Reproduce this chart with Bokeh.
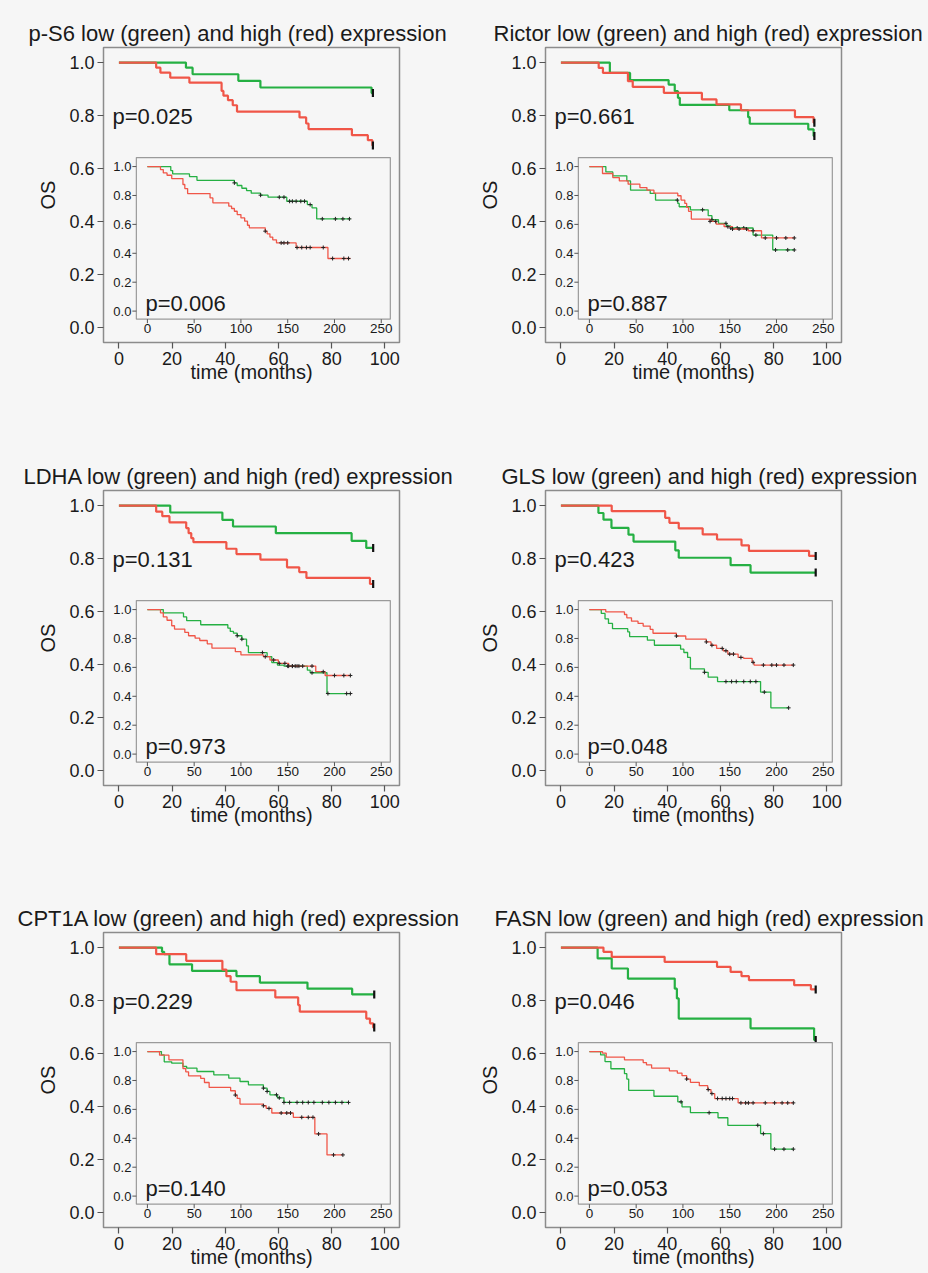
import math
from bokeh.plotting import figure
from bokeh.models import Range1d, Label, PrintfTickFormatter, FixedTicker
from bokeh.layouts import column, row
from bokeh.embed import file_html
from bokeh.resources import INLINE
from bokeh.core.properties import value

# ---------------- data ----------------
GENES = ["p-S6", "Rictor", "LDHA", "GLS", "CPT1A", "FASN"]
P_MAIN = ["0.025", "0.661", "0.131", "0.423", "0.229", "0.046"]
P_INSET = ["0.006", "0.887", "0.973", "0.048", "0.140", "0.053"]
MAIN_X_TICKS = [0, 20, 40, 60, 80, 100]
OS_TICKS = [0.0, 0.2, 0.4, 0.6, 0.8, 1.0]
OS_LABELS = ["0.0", "0.2", "0.4", "0.6", "0.8", "1.0"]
INSET_X_TICKS = [0, 50, 100, 150, 200, 250]
INSET_X_LABELS = ["0", "50", "100", "150", "200", "250"]

# main plots (months 0-100): event times and survival after each event
PS6_LOW_T = [25.2, 27.7, 44.9, 53.2, 95.0]
PS6_LOW_S = [0.981, 0.956, 0.931, 0.906, 0.885]
PS6_HIGH_T = [14, 15.6, 19.3, 26.5, 38.6, 39.3, 41, 42.8, 44.4, 67.9, 70.4, 71.3, 87.6, 93.6, 95.3]
PS6_HIGH_S = [0.981, 0.962, 0.943, 0.924, 0.893, 0.875, 0.858, 0.839, 0.815, 0.793, 0.770, 0.749, 0.726, 0.707, 0.687]
PS6_END = 95.5

RICTOR_LOW_T = [18.4, 26, 40.5, 42.8, 44, 44.7, 63.3, 70.4, 71, 93, 95]
RICTOR_LOW_S = [0.961, 0.934, 0.917, 0.892, 0.867, 0.840, 0.820, 0.794, 0.769, 0.748, 0.723]
RICTOR_HIGH_T = [14.2, 15.8, 25.2, 27, 38.7, 53, 58.5, 67.7, 88, 95]
RICTOR_HIGH_S = [0.980, 0.961, 0.930, 0.908, 0.886, 0.861, 0.842, 0.820, 0.794, 0.773]
RICTOR_END = 95.3

LDHA_LOW_T = [19.3, 38.9, 42.9, 59, 87.5, 93]
LDHA_LOW_S = [0.974, 0.946, 0.921, 0.896, 0.867, 0.840]
LDHA_HIGH_T = [14, 16.3, 19, 25.3, 26.2, 27.2, 28, 40.4, 44.2, 53.2, 63.2, 67.8, 70.5, 94.4]
LDHA_HIGH_S = [0.977, 0.960, 0.937, 0.915, 0.896, 0.877, 0.862, 0.837, 0.817, 0.796, 0.767, 0.749, 0.727, 0.704]
LDHA_END = 95.6

GLS_LOW_T = [14.1, 16, 19, 25.4, 27.3, 43, 44.3, 63.8, 71.3]
GLS_LOW_S = [0.972, 0.947, 0.916, 0.890, 0.864, 0.831, 0.803, 0.775, 0.747]
GLS_HIGH_T = [19.1, 39.2, 40.8, 44.3, 53.3, 58.7, 67.9, 70.7, 93.3]
GLS_HIGH_S = [0.979, 0.954, 0.935, 0.914, 0.891, 0.872, 0.850, 0.829, 0.810]
GLS_END = 95.8

CPT1A_LOW_T = [16.2, 17, 19, 27.5, 44.2, 53, 70.9, 87.7]
CPT1A_LOW_S = [0.984, 0.975, 0.937, 0.912, 0.892, 0.868, 0.845, 0.823]
CPT1A_HIGH_T = [14, 25.3, 38.9, 40.4, 42, 44.2, 58.8, 67.4, 68, 93, 94.4, 95.6]
CPT1A_HIGH_S = [0.975, 0.950, 0.917, 0.892, 0.871, 0.839, 0.812, 0.783, 0.758, 0.732, 0.714, 0.698]
CPT1A_END = 96.0

FASN_LOW_T = [13.8, 19.1, 25.2, 42.8, 43.6, 44.3, 71.3, 95.2]
FASN_LOW_S = [0.959, 0.921, 0.883, 0.845, 0.808, 0.732, 0.695, 0.651]
FASN_HIGH_T = [16, 19.1, 39, 58.7, 63.8, 67.9, 70.7, 87.7, 94]
FASN_HIGH_S = [0.984, 0.965, 0.946, 0.927, 0.908, 0.892, 0.877, 0.858, 0.842]
FASN_END = 95.8

# inset plots (months 0-250)
PS6_IN_LOW_T = [25, 27, 45, 53, 93, 96, 101, 106, 111, 121, 129, 149, 171, 176, 181]
PS6_IN_LOW_S = [0.972, 0.949, 0.931, 0.905, 0.887, 0.869, 0.850, 0.834, 0.816, 0.802, 0.788, 0.760, 0.737, 0.714, 0.638]
PS6_IN_LOW_C = [93, 121, 141, 146, 152, 155, 159, 164, 168, 174, 187, 201, 209, 216]
PS6_IN_LOW_END = 217
PS6_IN_HIGH_T = [14, 17, 21, 26, 38, 40, 43, 67, 70, 87, 90, 93, 96, 100, 104, 107, 109, 126, 128, 131, 134, 138, 159, 193]
PS6_IN_HIGH_S = [0.979, 0.956, 0.940, 0.917, 0.876, 0.848, 0.813, 0.783, 0.749, 0.726, 0.710, 0.691, 0.668, 0.645, 0.622, 0.594, 0.576, 0.553, 0.535, 0.512, 0.493, 0.472, 0.440, 0.364]
PS6_IN_HIGH_C = [126, 143, 146, 150, 160, 165, 170, 174, 188, 198, 210, 215]
PS6_IN_HIGH_END = 217

RICTOR_IN_LOW_T = [17.6, 25, 40, 44, 65, 70.7, 94.5, 96, 108, 127, 131, 138, 146.5, 151, 175, 196]
RICTOR_IN_LOW_S = [0.963, 0.936, 0.901, 0.837, 0.814, 0.768, 0.745, 0.722, 0.701, 0.660, 0.632, 0.607, 0.589, 0.575, 0.526, 0.423]
RICTOR_IN_LOW_C = [94, 121, 131, 146, 151, 158, 165, 178, 199, 212, 219]
RICTOR_IN_LOW_END = 219
RICTOR_IN_HIGH_T = [14, 25, 32, 41.4, 54, 61.5, 69, 94.5, 98, 102, 104, 106, 109, 129, 135.5, 144, 153, 169.6, 184]
RICTOR_IN_HIGH_S = [0.952, 0.924, 0.901, 0.878, 0.855, 0.837, 0.816, 0.798, 0.768, 0.745, 0.717, 0.690, 0.637, 0.621, 0.602, 0.584, 0.568, 0.556, 0.506]
RICTOR_IN_HIGH_C = [129, 135, 148, 153, 160, 168, 175, 188, 200, 210, 219]
RICTOR_IN_HIGH_END = 219

LDHA_IN_LOW_T = [17, 38.6, 42, 57, 86, 88.6, 92, 96, 101, 106, 108, 128, 133, 139, 146, 171, 174, 192]
LDHA_IN_LOW_S = [0.977, 0.949, 0.923, 0.895, 0.872, 0.849, 0.837, 0.819, 0.795, 0.749, 0.702, 0.674, 0.633, 0.616, 0.609, 0.581, 0.563, 0.419]
LDHA_IN_LOW_C = [96, 101, 123, 150, 155, 160, 176, 193, 213, 217]
LDHA_IN_LOW_END = 217
LDHA_IN_HIGH_T = [14, 17, 21, 26, 29, 40, 44, 51, 56, 64, 69, 94, 100, 124, 131, 140, 151, 180, 190]
LDHA_IN_HIGH_S = [0.977, 0.949, 0.926, 0.888, 0.865, 0.842, 0.819, 0.802, 0.786, 0.763, 0.733, 0.709, 0.686, 0.674, 0.651, 0.628, 0.609, 0.570, 0.544]
LDHA_IN_HIGH_C = [126, 135, 141, 147, 151, 155, 158, 162, 166, 176, 188, 200, 210, 217]
LDHA_IN_HIGH_END = 217

GLS_IN_LOW_T = [12.7, 16.7, 20.4, 24.7, 41, 43, 62, 69.5, 97.5, 101, 105, 108, 123, 127, 137, 183, 194]
GLS_IN_LOW_S = [0.973, 0.936, 0.904, 0.868, 0.845, 0.813, 0.788, 0.753, 0.726, 0.703, 0.669, 0.589, 0.566, 0.532, 0.502, 0.429, 0.320]
GLS_IN_LOW_C = [123, 146, 152, 157, 165, 172, 178, 187, 213]
GLS_IN_LOW_END = 213
GLS_IN_HIGH_T = [17.5, 37.5, 40, 45, 52, 57.5, 65, 68, 93, 103, 125, 130, 136, 143, 148, 159, 165, 174, 176]
GLS_IN_HIGH_S = [0.984, 0.966, 0.943, 0.920, 0.904, 0.886, 0.863, 0.836, 0.817, 0.795, 0.776, 0.753, 0.731, 0.715, 0.692, 0.669, 0.662, 0.635, 0.616]
GLS_IN_HIGH_C = [93, 125, 131, 142, 146, 150, 154, 162, 175, 186, 195, 200, 208, 218]
GLS_IN_HIGH_END = 218

CPT1A_IN_LOW_T = [15, 18, 26, 38, 42, 53, 71, 87, 99, 108, 124, 128, 131, 139, 146]
CPT1A_IN_LOW_S = [0.977, 0.929, 0.920, 0.897, 0.885, 0.862, 0.839, 0.816, 0.793, 0.770, 0.747, 0.724, 0.701, 0.680, 0.648]
CPT1A_IN_LOW_C = [124, 128, 138, 141, 146, 152, 160, 166, 172, 178, 187, 194, 201, 208, 215]
CPT1A_IN_LOW_END = 215
CPT1A_IN_HIGH_T = [13, 23, 38, 41, 44, 57, 61, 66, 89, 94, 96, 99, 124, 127, 133, 156, 179, 192]
CPT1A_IN_HIGH_S = [0.975, 0.943, 0.883, 0.860, 0.832, 0.814, 0.786, 0.752, 0.729, 0.699, 0.676, 0.637, 0.625, 0.607, 0.575, 0.545, 0.430, 0.285]
CPT1A_IN_HIGH_C = [94, 124, 130, 143, 149, 153, 165, 172, 177, 183, 199, 209]
CPT1A_IN_HIGH_END = 209

FASN_IN_LOW_T = [12, 16.7, 23, 37.5, 40, 42, 69, 94.5, 99, 108, 137.5, 148, 183, 194]
FASN_IN_LOW_S = [0.977, 0.931, 0.881, 0.847, 0.810, 0.732, 0.691, 0.652, 0.618, 0.577, 0.542, 0.490, 0.432, 0.325]
FASN_IN_LOW_C = [98, 128, 180, 186, 198, 208, 218]
FASN_IN_LOW_END = 218
FASN_IN_HIGH_T = [14, 18, 37.5, 57.5, 61, 66.5, 85.5, 94, 99, 104, 108, 117.5, 126.5, 130, 134, 159]
FASN_IN_HIGH_S = [0.989, 0.961, 0.943, 0.924, 0.908, 0.886, 0.867, 0.851, 0.833, 0.810, 0.787, 0.764, 0.737, 0.709, 0.675, 0.645]
FASN_IN_HIGH_C = [104, 127, 131, 137, 142, 146, 150, 153, 162, 167, 170, 175, 188, 198, 206, 212, 218]
FASN_IN_HIGH_END = 218

MAIN = [
    (PS6_LOW_T, PS6_LOW_S, PS6_HIGH_T, PS6_HIGH_S, PS6_END),
    (RICTOR_LOW_T, RICTOR_LOW_S, RICTOR_HIGH_T, RICTOR_HIGH_S, RICTOR_END),
    (LDHA_LOW_T, LDHA_LOW_S, LDHA_HIGH_T, LDHA_HIGH_S, LDHA_END),
    (GLS_LOW_T, GLS_LOW_S, GLS_HIGH_T, GLS_HIGH_S, GLS_END),
    (CPT1A_LOW_T, CPT1A_LOW_S, CPT1A_HIGH_T, CPT1A_HIGH_S, CPT1A_END),
    (FASN_LOW_T, FASN_LOW_S, FASN_HIGH_T, FASN_HIGH_S, FASN_END),
]
INSET = [
    ((PS6_IN_LOW_T, PS6_IN_LOW_S, PS6_IN_LOW_C, PS6_IN_LOW_END),
     (PS6_IN_HIGH_T, PS6_IN_HIGH_S, PS6_IN_HIGH_C, PS6_IN_HIGH_END)),
    ((RICTOR_IN_LOW_T, RICTOR_IN_LOW_S, RICTOR_IN_LOW_C, RICTOR_IN_LOW_END),
     (RICTOR_IN_HIGH_T, RICTOR_IN_HIGH_S, RICTOR_IN_HIGH_C, RICTOR_IN_HIGH_END)),
    ((LDHA_IN_LOW_T, LDHA_IN_LOW_S, LDHA_IN_LOW_C, LDHA_IN_LOW_END),
     (LDHA_IN_HIGH_T, LDHA_IN_HIGH_S, LDHA_IN_HIGH_C, LDHA_IN_HIGH_END)),
    ((GLS_IN_LOW_T, GLS_IN_LOW_S, GLS_IN_LOW_C, GLS_IN_LOW_END),
     (GLS_IN_HIGH_T, GLS_IN_HIGH_S, GLS_IN_HIGH_C, GLS_IN_HIGH_END)),
    ((CPT1A_IN_LOW_T, CPT1A_IN_LOW_S, CPT1A_IN_LOW_C, CPT1A_IN_LOW_END),
     (CPT1A_IN_HIGH_T, CPT1A_IN_HIGH_S, CPT1A_IN_HIGH_C, CPT1A_IN_HIGH_END)),
    ((FASN_IN_LOW_T, FASN_IN_LOW_S, FASN_IN_LOW_C, FASN_IN_LOW_END),
     (FASN_IN_HIGH_T, FASN_IN_HIGH_S, FASN_IN_HIGH_C, FASN_IN_HIGH_END)),
]

# ---------------- style ----------------
FONT = "Liberation Sans"
BG = "#f6f6f6"
GREEN = "#25b043"
RED = "#f05648"
FRAME = "#8c8c8c"
TICK = "#555555"
TXT = "#1a1a1a"
# horizontal offset (px) of each title's left edge from its frame's left edge
TITLE_OFFSET = [-75, -52, -80, -44, -86, -51]

MX0, MX1 = -5.8, 105.5
MY0, MY1 = -0.057, 1.057
IX0, IX1 = -11.8, 259.7
IY0, IY1 = -0.056, 1.0625
# inset frame as fractions of the main frame
IF_L, IF_R, IF_B, IF_T = 0.111, 0.969, 0.079, 0.627
FRAME_W, FRAME_H = 296, 295


def steps(times, surv, end):
    return [0.0] + list(times) + [end], [1.0] + list(surv) + [surv[-1]]


def surv_at(t, times, surv):
    s = 1.0
    for ti, si in zip(times, surv):
        if ti <= t:
            s = si
    return s


def make_panel(i, left_col, top_border, height, bottom_border):
    mb_left = 103 if left_col else 81
    p = figure(width=464, height=height, x_range=Range1d(MX0, MX1), y_range=Range1d(MY0, MY1),
               output_backend="svg", toolbar_location=None,
               min_border_left=mb_left, min_border_right=464 - mb_left - FRAME_W,
               min_border_top=top_border, min_border_bottom=bottom_border,
               title=f"{GENES[i]} low (green) and high (red) expression")
    p.background_fill_color = BG
    p.border_fill_color = BG
    p.outline_line_color = FRAME
    p.outline_line_width = 1.5
    p.grid.visible = False
    p.title.align = "left"
    p.title.offset = TITLE_OFFSET[i]
    p.title.standoff = 3
    p.title.text_font = FONT
    p.title.text_font_size = "22px"
    p.title.text_font_style = "normal"
    p.title.text_color = TXT

    p.xaxis.ticker = FixedTicker(ticks=MAIN_X_TICKS)
    p.yaxis.ticker = FixedTicker(ticks=OS_TICKS)
    p.yaxis.formatter = PrintfTickFormatter(format="%.1f")
    p.xaxis.axis_label = "time (months)"
    p.yaxis.axis_label = "OS"
    for ax in (p.xaxis, p.yaxis):
        ax.axis_line_color = None
        ax.major_tick_line_color = TICK
        ax.major_tick_line_width = 1.2
        ax.major_tick_out = 6
        ax.major_tick_in = 0
        ax.minor_tick_line_color = None
        ax.major_label_text_font = FONT
        ax.major_label_text_font_size = "18px"
        ax.major_label_text_color = TXT
        ax.major_label_standoff = 3
        ax.axis_label_text_font = FONT
        ax.axis_label_text_font_size = "20px"
        ax.axis_label_text_font_style = "normal"
        ax.axis_label_text_color = TXT
    p.xaxis.axis_label_standoff = -7
    p.yaxis.axis_label_standoff = 7

    px_x = (MX1 - MX0) / FRAME_W

    lt, ls, ht, hs, end = MAIN[i]
    for t, s, col in ((lt, ls, GREEN), (ht, hs, RED)):
        xs, ys = steps(t, s, end)
        p.step(xs, ys, mode="after", line_color=col, line_width=2.2)
    p.scatter([end, end], [ls[-1], hs[-1]], marker="dash", angle=math.pi / 2, size=8,
              line_color="#111111", line_width=2.2)

    p.add_layout(Label(x=MX0 + 9 * px_x, y=0.795, text=f"p={P_MAIN[i]}",
                       text_font=FONT, text_font_size="22px", text_color=TXT,
                       text_baseline="middle"))

    # inset
    tx0 = MX0 + IF_L * (MX1 - MX0)
    tx1 = MX0 + IF_R * (MX1 - MX0)
    ty0 = MY0 + IF_B * (MY1 - MY0)
    ty1 = MY0 + IF_T * (MY1 - MY0)
    ins = p.subplot(x_source=Range1d(IX0, IX1), y_source=Range1d(IY0, IY1),
                    x_target=Range1d(tx0, tx1), y_target=Range1d(ty0, ty1))
    ins.quad(left=[IX0], right=[IX1], bottom=[IY0], top=[IY1], fill_color=BG,
             line_color="#9a9a9a", line_width=1.2)
    ins.ray(x=[IX0] * len(OS_TICKS), y=OS_TICKS, length=4, length_units="screen",
            angle=math.pi, line_color=TICK, line_width=1)
    ins.ray(x=INSET_X_TICKS, y=[IY0] * len(INSET_X_TICKS), length=4, length_units="screen",
            angle=-math.pi / 2, line_color=TICK, line_width=1)
    ins.text(x=[IX0] * len(OS_TICKS), y=OS_TICKS, text=OS_LABELS, x_offset=-5,
             text_align="right", text_baseline="middle", text_font=value(FONT),
             text_font_size="13px", text_color=TXT)
    ins.text(x=INSET_X_TICKS, y=[IY0] * len(INSET_X_TICKS), text=INSET_X_LABELS, y_offset=5,
             text_align="center", text_baseline="top", text_font=value(FONT),
             text_font_size="13.5px", text_color=TXT)
    (glt, gls, glc, gle), (rht, rhs, rhc, rhe) = INSET[i]
    for t, s, c, e, col in ((glt, gls, glc, gle, GREEN), (rht, rhs, rhc, rhe, RED)):
        xs, ys = steps(t, s, e)
        ins.step(xs, ys, mode="after", line_color=col, line_width=1.3)
        ins.scatter(c, [surv_at(ct, t, s) for ct in c], marker="cross", size=4,
                    line_color="#222222", line_width=1)
    ins.text(x=[-2], y=[0.05], text=[f"p={P_INSET[i]}"], text_align="left",
             text_baseline="middle", text_font=value(FONT), text_font_size="22px",
             text_color=TXT)
    return p


rows = []
layout_rows = [(47, 442, 100), (48, 442, 99), (48, 389, 46)]
for r, (tb, h, bb) in enumerate(layout_rows):
    rows.append(row(make_panel(2 * r, True, tb, h, bb), make_panel(2 * r + 1, False, tb, h, bb)))

layout = column(*rows)
layout.styles = {"background-color": BG}
open("out.html", "w").write(file_html(layout, INLINE))
